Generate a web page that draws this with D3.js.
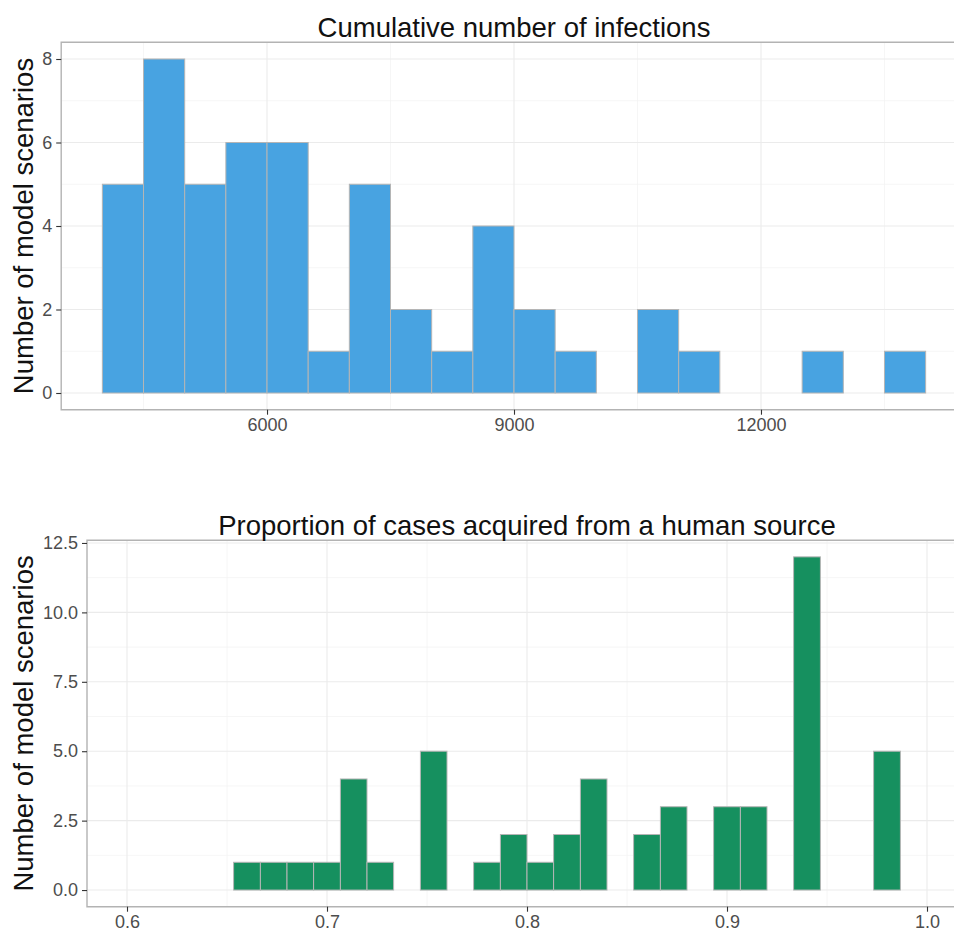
<!DOCTYPE html>
<html>
<head>
<meta charset="utf-8">
<script src="https://cdn.jsdelivr.net/npm/d3@7"></script>
<style>
  html, body { margin: 0; padding: 0; background: #fff; overflow: hidden; }
  svg { display: block; overflow: hidden; font-family: "Liberation Sans", Arial, Helvetica, sans-serif; }
</style>
</head>
<body>
<svg id="chart" width="954" height="933"></svg>
<script>
// Histogram 1: cumulative number of infections (bins of 500)
const infectionBinEdges = [4000, 4500, 5000, 5500, 6000, 6500, 7000, 7500, 8000, 8500, 9000,
                           9500, 10000, 10500, 11000, 11500, 12000, 12500, 13000, 13500, 14000];
const infectionCounts = [5, 8, 5, 6, 6, 1, 5, 2, 1, 4, 2, 1, 0, 2, 1, 0, 0, 1, 0, 1];
const infectionXTicks = [6000, 9000, 12000];
const infectionXMinor = [4500, 7500, 10500, 13500];
const infectionYTicks = [0, 2, 4, 6, 8];
const infectionYMinor = [1, 3, 5, 7];

// Histogram 2: proportion of cases acquired from a human source (30 bins)
const humanBinEdges = [0.6000, 0.6133, 0.6267, 0.6400, 0.6533, 0.6667, 0.6800, 0.6933, 0.7067, 0.7200,
                       0.7333, 0.7467, 0.7600, 0.7733, 0.7867, 0.8000, 0.8133, 0.8267, 0.8400, 0.8533,
                       0.8667, 0.8800, 0.8933, 0.9067, 0.9200, 0.9333, 0.9467, 0.9600, 0.9733, 0.9867, 1.0000];
const humanCounts = [0, 0, 0, 0, 1, 1, 1, 1, 4, 1, 0, 5, 0, 1, 2, 1, 2, 4, 0, 2, 3, 0, 3, 3, 0, 12, 0, 0, 5, 0];
const humanXTicks = [0.6, 0.7, 0.8, 0.9, 1.0];
const humanXMinor = [0.65, 0.75, 0.85, 0.95];
const humanYTicks = [0, 2.5, 5, 7.5, 10, 12.5];
const humanYMinor = [1.25, 3.75, 6.25, 8.75, 11.25];

const W = 954, H = 933;
const svg = d3.select("#chart");
svg.append("defs").append("clipPath").attr("id", "page")
  .append("rect").attr("x", 0).attr("y", 0).attr("width", W).attr("height", H);
const root = svg.append("g").attr("clip-path", "url(#page)");

function histogram(opts) {
  const { edges, counts, panel, title, fill, xTicks, xMinor, yTicks, yMinor, xFmt, yFmt } = opts;

  // 5% expansion on both axes
  const x0 = edges[0], x1 = edges[edges.length - 1];
  const padX = (x1 - x0) * 0.05;
  const yMax = d3.max(counts);
  const padY = yMax * 0.05;

  const x = d3.scaleLinear().domain([x0 - padX, x1 + padX]).range([panel.left, panel.right]);
  const y = d3.scaleLinear().domain([-padY, yMax + padY]).range([panel.bottom, panel.top]);

  const g = root.append("g");

  // minor grid
  g.selectAll(".gxm").data(xMinor).join("line")
    .attr("x1", d => x(d)).attr("x2", d => x(d))
    .attr("y1", panel.top).attr("y2", panel.bottom)
    .attr("stroke", "#f4f4f4").attr("stroke-width", 0.8);
  g.selectAll(".gym").data(yMinor).join("line")
    .attr("y1", d => y(d)).attr("y2", d => y(d))
    .attr("x1", panel.left).attr("x2", panel.right)
    .attr("stroke", "#f4f4f4").attr("stroke-width", 0.8);
  // major grid
  g.selectAll(".gx").data(xTicks).join("line")
    .attr("x1", d => x(d)).attr("x2", d => x(d))
    .attr("y1", panel.top).attr("y2", panel.bottom)
    .attr("stroke", "#ebebeb").attr("stroke-width", 1.1);
  g.selectAll(".gy").data(yTicks).join("line")
    .attr("y1", d => y(d)).attr("y2", d => y(d))
    .attr("x1", panel.left).attr("x2", panel.right)
    .attr("stroke", "#ebebeb").attr("stroke-width", 1.1);

  // bars
  const bins = counts.map((c, i) => ({ lo: edges[i], hi: edges[i + 1], n: c }));
  g.selectAll(".bar").data(bins).join("rect")
    .attr("x", d => x(d.lo))
    .attr("width", d => x(d.hi) - x(d.lo))
    .attr("y", d => y(d.n))
    .attr("height", d => y(0) - y(d.n))
    .attr("fill", fill)
    .attr("stroke", "#b5b5b5")
    .attr("stroke-width", 1);

  // panel border (its right side lies past the page edge)
  g.append("path")
    .attr("d", `M${panel.right},${panel.top}H${panel.left}V${panel.bottom}H${panel.right}`)
    .attr("fill", "none").attr("stroke", "#b3b3b3").attr("stroke-width", 1.4);

  // axes
  const xAxis = d3.axisBottom(x).tickValues(xTicks).tickFormat(xFmt).tickSize(5).tickPadding(4);
  const yAxis = d3.axisLeft(y).tickValues(yTicks).tickFormat(yFmt).tickSize(5).tickPadding(4);

  const gx = g.append("g").attr("transform", `translate(0,${panel.bottom})`).call(xAxis);
  const gy = g.append("g").attr("transform", `translate(${panel.left},0)`).call(yAxis);
  [gx, gy].forEach(a => {
    a.select(".domain").remove();
    a.selectAll(".tick line").attr("stroke", "#333").attr("stroke-width", 1.1);
    a.selectAll(".tick text")
      .attr("fill", "#4d4d4d")
      .style("font-size", "18px")
      .style("font-family", '"Liberation Sans", Arial, sans-serif');
  });

  // title
  g.append("text")
    .attr("x", (panel.left + panel.right) / 2)
    .attr("y", panel.top - 5.5)
    .attr("text-anchor", "middle")
    .attr("fill", "#111")
    .style("font-size", "27.5px")
    .text(title);

  // y axis title
  g.append("text")
    .attr("transform", `translate(${opts.yTitleX},${(panel.top + panel.bottom) / 2}) rotate(-90)`)
    .attr("text-anchor", "middle")
    .attr("fill", "#111")
    .style("font-size", "27.5px")
    .text("Number of model scenarios");
}

histogram({
  edges: infectionBinEdges,
  counts: infectionCounts,
  panel: { left: 61.2, right: 966.8, top: 42.3, bottom: 409.7 },
  title: "Cumulative number of infections",
  fill: "#48a3e1",
  xTicks: infectionXTicks, xMinor: infectionXMinor,
  yTicks: infectionYTicks, yMinor: infectionYMinor,
  xFmt: d3.format("d"), yFmt: d3.format("d"),
  yTitleX: 33
});

histogram({
  edges: humanBinEdges,
  counts: humanCounts,
  panel: { left: 87, right: 967, top: 540.2, bottom: 906.7 },
  title: "Proportion of cases acquired from a human source",
  fill: "#16905f",
  xTicks: humanXTicks, xMinor: humanXMinor,
  yTicks: humanYTicks, yMinor: humanYMinor,
  xFmt: d3.format(".1f"), yFmt: d3.format(".1f"),
  yTitleX: 33
});
</script>
</body>
</html>
